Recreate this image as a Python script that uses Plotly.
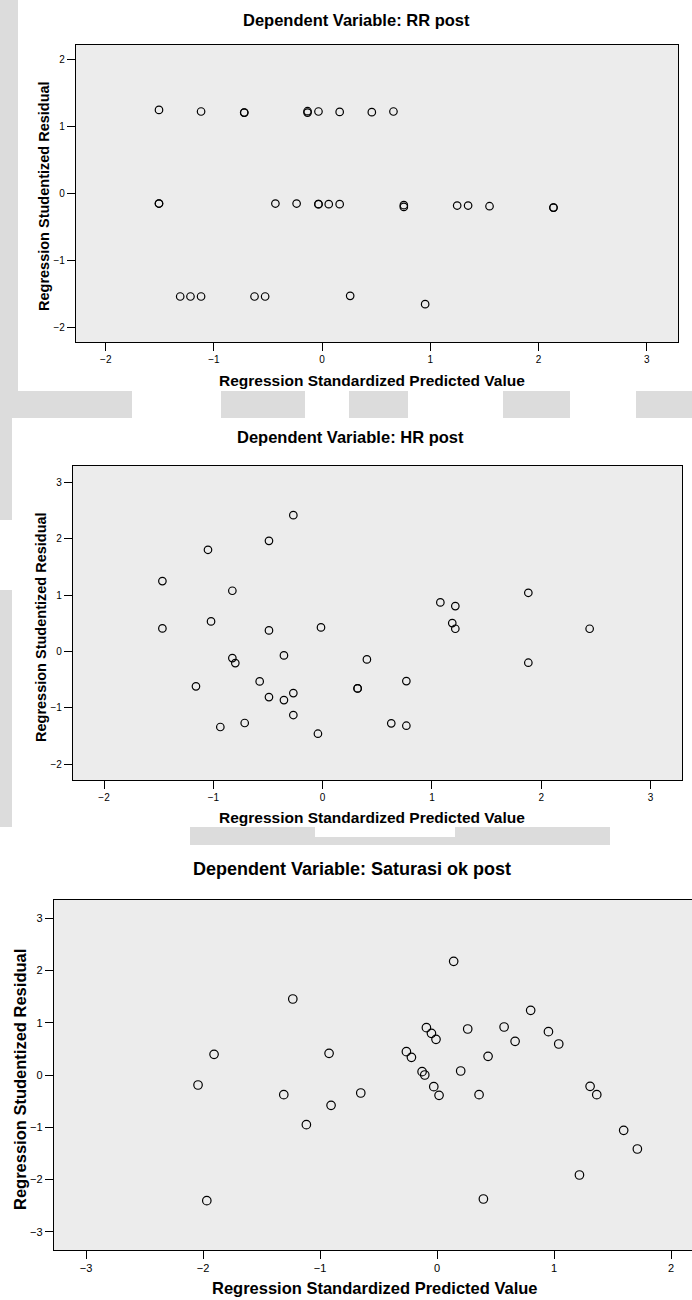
import plotly.graph_objects as go

W, H = 692, 1300
FONT = "Liberation Sans, Arial, Helvetica, sans-serif"

# ---- RR post: standardized predicted value vs studentized residual ----
rr_pred = [-1.508, -1.119, -0.720, -0.720, -0.135, -0.135, -0.034, 0.162, 0.459, 0.659,
           -1.508, -1.508, -0.432, -0.236, -0.034, -0.034, 0.061, 0.162, 0.755, 0.755,
           1.248, 1.349, 1.547, 2.138, 2.138,
           -1.312, -1.217, -1.119, -0.625, -0.527, 0.259, 0.952]
rr_resid = [1.250, 1.226, 1.210, 1.210, 1.230, 1.210, 1.226, 1.220, 1.216, 1.226,
            -0.150, -0.150, -0.150, -0.150, -0.160, -0.160, -0.160, -0.160, -0.174, -0.200,
            -0.180, -0.180, -0.190, -0.210, -0.210,
            -1.540, -1.540, -1.540, -1.540, -1.540, -1.530, -1.654]

# ---- HR post ----
hr_pred = [-0.268, -0.491, -1.049, -1.466, -0.826, -1.021, -1.466, -0.491, -0.015, -0.354,
           -0.826, -0.799, -1.159, -0.576, -0.491, -0.354, -0.268, -0.268, -0.936, -0.713,
           -0.043, 0.405, 0.320, 0.320, 0.766, 0.628, 0.766, 1.077, 1.214, 1.186,
           1.214, 1.882, 1.882, 2.443]
hr_resid = [2.420, 1.964, 1.805, 1.249, 1.077, 0.533, 0.408, 0.373, 0.426, -0.071,
            -0.118, -0.207, -0.621, -0.533, -0.811, -0.864, -0.740, -1.130, -1.343, -1.272,
            -1.462, -0.142, -0.657, -0.657, -0.527, -1.278, -1.320, 0.870, 0.805, 0.503,
            0.402, 1.041, -0.201, 0.402]

# ---- Saturasi ok post ----
sat_pred = [-1.233, -1.906, -2.043, -1.968, -1.310, -0.923, -0.906, -1.117, -0.652, 0.142,
            0.800, -0.091, -0.048, -0.009, 0.262, 0.573, 0.952, 0.667, 1.040, -0.262,
            -0.219, 0.436, -0.128, -0.105, 0.202, -0.028, 0.017, 0.359, 1.308, 1.365,
            1.595, 1.712, 1.217, 0.396]
sat_resid = [1.455, 0.396, -0.191, -2.406, -0.377, 0.415, -0.581, -0.951, -0.345, 2.176,
             1.238, 0.906, 0.798, 0.683, 0.881, 0.919, 0.830, 0.645, 0.593, 0.447,
             0.338, 0.357, 0.064, 0.000, 0.077, -0.223, -0.389, -0.377, -0.217, -0.377,
             -1.059, -1.417, -1.914, -2.374]

titles = ["Dependent Variable: RR post",
          "Dependent Variable: HR post",
          "Dependent Variable: Saturasi ok post"]
x_title = "Regression Standardized Predicted Value"
y_title = "Regression Studentized Residual"


def px(x):
    return x / W


def py(y):
    return 1 - y / H


fig = go.Figure()

panels = [
    # data, plot box (left, right, top, bottom) in pixels, ranges, marker size
    dict(x=rr_pred, y=rr_resid, box=(76, 678, 45, 342),
         xr=[-2.275, 3.289], yr=[-2.22, 2.22], ms=7.5, tf=10),
    dict(x=hr_pred, y=hr_resid, box=(73, 682, 466, 780),
         xr=[-2.284, 3.288], yr=[-2.284, 3.293], ms=7.5, tf=10),
    dict(x=sat_pred, y=sat_resid, box=(54, 692, 900, 1250),
         xr=[-3.274, 2.179], yr=[-3.35, 3.35], ms=8.5, tf=11),
]

for i, p in enumerate(panels, start=1):
    sfx = "" if i == 1 else str(i)
    fig.add_trace(go.Scatter(
        x=p["x"], y=p["y"], mode="markers", xaxis="x" + sfx, yaxis="y" + sfx,
        marker=dict(symbol="circle", size=p["ms"], color="rgba(0,0,0,0)",
                    line=dict(color="black", width=1.2)),
        showlegend=False, hoverinfo="x+y"))
    l, r, t, b = p["box"]
    last = i == 3
    axis_common = dict(showgrid=False, zeroline=False, showline=True,
                       linecolor="black", linewidth=1.3,
                       ticks="outside", ticklen=8, tickwidth=1, tickcolor="black",
                       dtick=1, tick0=0,
                       tickfont=dict(family=FONT, size=p["tf"], color="black"),
                       fixedrange=True)
    fig.update_layout(**{
        "xaxis" + sfx: dict(axis_common, domain=[px(l), px(r)], range=p["xr"],
                            anchor="y" + sfx, mirror=True),
        "yaxis" + sfx: dict(axis_common, domain=[py(b), py(t)], range=p["yr"],
                            anchor="x" + sfx, mirror=not last),
    })

# Light-grey watermark showing between the white chart panels
WM = "#dcdcdc"
shapes = []


def rect(x0, y0, x1, y1, color):
    shapes.append(dict(type="rect", xref="paper", yref="paper", layer="below",
                       x0=px(x0), x1=px(x1), y0=py(y1), y1=py(y0),
                       fillcolor=color, line=dict(width=0)))


# strip to the left of the first panel and the band below it
rect(0, 0, 18, 391, WM)
for a, c in [(0, 132), (221, 305), (349, 408), (503, 570), (636, 692)]:
    rect(a, 391, c, 418, WM)
# strip to the left of the second panel and the band below it
rect(0, 418, 12, 520, WM)
rect(0, 590, 12, 827, WM)
for a, c in [(190, 315), (455, 610)]:
    rect(a, 827, c, 845, WM)
rect(315, 837, 455, 845, WM)

# Plot-area fills behind the markers
for p in panels:
    l, r, t, b = p["box"]
    shapes.append(dict(type="rect", xref="paper", yref="paper", layer="below",
                       x0=px(l), x1=px(r), y0=py(b), y1=py(t),
                       fillcolor="#ececec", line=dict(width=0)))

annotations = []


def label(text, x, y, size, angle=0):
    annotations.append(dict(text=text, x=px(x), y=py(y), xref="paper", yref="paper",
                            showarrow=False, xanchor="center", yanchor="middle",
                            textangle=angle,
                            font=dict(family=FONT, size=size, color="black",
                                      weight="bold")))


# chart titles
label(titles[0], 356, 20, 16.5)
label(titles[1], 350, 437, 16.5)
label(titles[2], 352, 869, 18)
# x-axis titles
label(x_title, 372, 380, 15.5)
label(x_title, 372, 817, 15.5)
label(x_title, 375, 1288, 16.5)
# y-axis titles
label(y_title, 44, 196, 14.5, -90)
label(y_title, 41, 627, 14.5, -90)
label(y_title, 20, 1080, 16.5, -90)

fig.update_layout(
    width=W, height=H, margin=dict(l=0, r=0, t=0, b=0),
    paper_bgcolor="white", plot_bgcolor="rgba(0,0,0,0)",
    shapes=shapes, annotations=annotations, showlegend=False,
)

fig.write_html("out.html", config={"displayModeBar": False})
